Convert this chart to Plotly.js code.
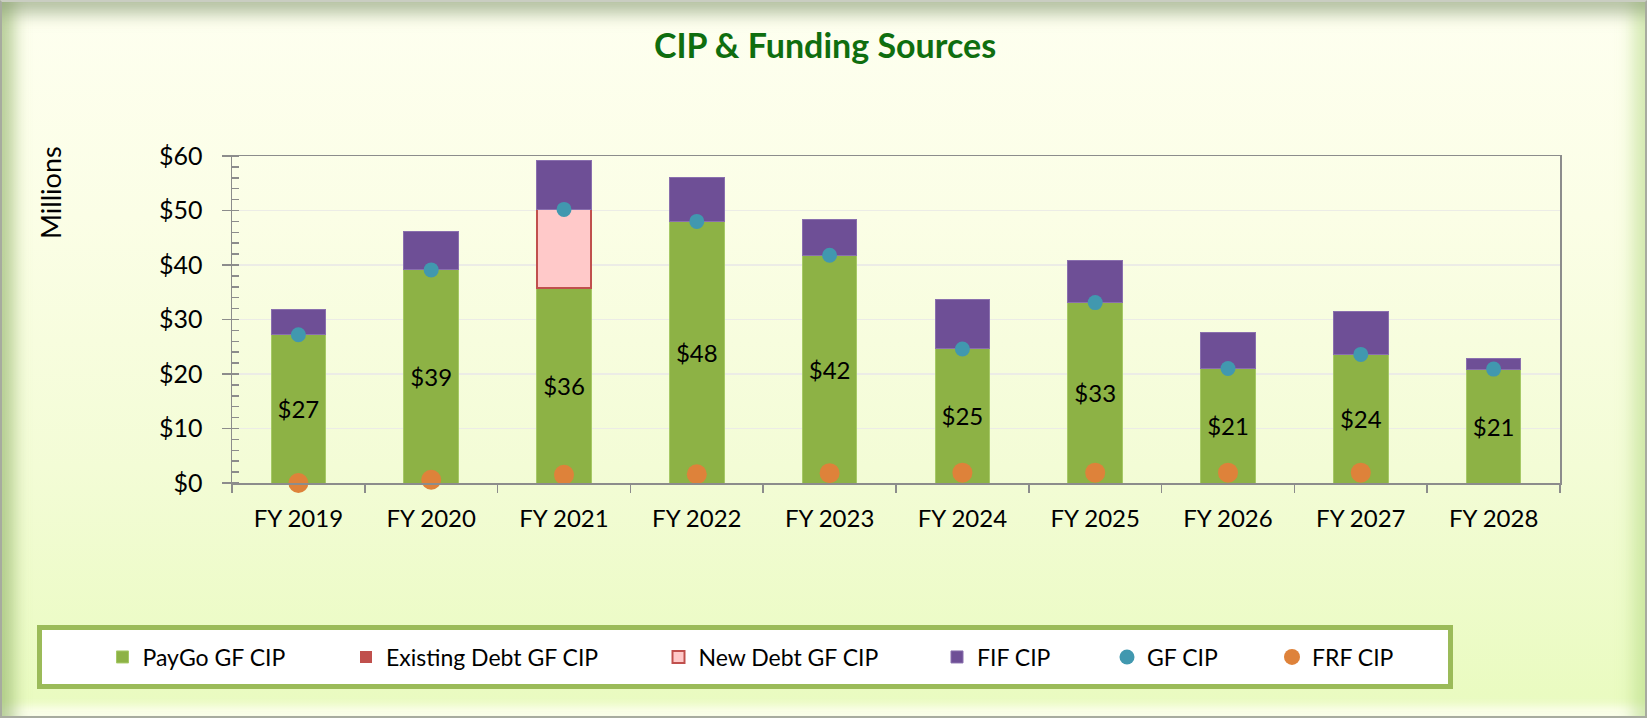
<!DOCTYPE html>
<html>
<head>
<meta charset="utf-8">
<script src="https://cdn.plot.ly/plotly-3.0.1.min.js"></script>
<style>
  html, body { margin: 0; padding: 0; width: 1647px; height: 718px; overflow: hidden; background: #ffffff; }
  #frame {
    position: absolute; left: 0; top: 0; width: 1647px; height: 718px; box-sizing: border-box;
    border: 2px solid #A7AB9F; border-top-color: #C9CDC1;
    background: linear-gradient(to bottom, #FEFFF0 0%, #FBFEE6 30%, #F3FCD6 65%, #E9FBBF 100%);
    box-shadow: inset 0 28px 16px -16px rgba(135,155,115,0.6),
                inset 26px 0 16px -14px rgba(140,175,100,0.6),
                inset -26px 0 16px -14px rgba(175,215,125,0.5),
                inset 0 -18px 10px -8px rgba(255,255,245,0.85);
  }
  #chart { position: absolute; left: 0; top: 0; width: 1647px; height: 718px; }
</style>
</head>
<body>
<div id="frame"></div>
<div id="chart"></div>
<script>
// ---- data ----
const categories = ["FY 2019", "FY 2020", "FY 2021", "FY 2022", "FY 2023", "FY 2024", "FY 2025", "FY 2026", "FY 2027", "FY 2028"];
const paygoGF    = [27.2, 39.1, 35.8, 48.0, 41.8, 24.6, 33.1, 21.0, 23.6, 20.9];
const existingDebtGF = [null, null, null, null, null, null, null, null, null, null];
const newDebtGF  = [null, null, 14.4, null, null, null, null, null, null, null];
const fifCIP     = [4.7, 7.1, 9.0, 8.1, 6.6, 9.1, 7.7, 6.6, 7.8, 1.9];
const gfCIP      = [27.2, 39.1, 50.2, 48.0, 41.8, 24.6, 33.1, 21.0, 23.6, 20.9];
const frfCIP     = [0, 0.6, 1.5, 1.6, 1.8, 1.9, 1.9, 1.9, 1.9, null];
const yTickVals  = [0, 10, 20, 30, 40, 50, 60];
const yTickText  = ["$0", "$10", "$20", "$30", "$40", "$50", "$60"];

// ---- geometry helpers (plot area in px) ----
const W = 1647, H = 718;
const PL = 232, PR = 1560, PT = 156, PB = 483;
const px2x = p => (p - PL) / (PR - PL);
const py2y = p => (PB - p) / (PB - PT);

const FONT = "Lato, 'Open Sans', sans-serif";
const AXC = "#8C8C8C";

const traces = [
  { type: "bar", name: "PayGo GF CIP", x: categories, y: paygoGF, legend: "legend",
    marker: { color: "#8DB245", line: { color: "#A6C966", width: 1 } },
    texttemplate: "$%{y:.0f}", textposition: "inside", insidetextanchor: "middle",
    textangle: 0, constraintext: "none",
    textfont: { family: FONT, size: 24, color: "#000000" } },
  { type: "bar", name: "Existing Debt GF CIP", x: categories, y: existingDebtGF, legend: "legend2",
    marker: { color: "#C0504D", line: { color: "#C0504D", width: 0 } } },
  { type: "bar", name: "New Debt GF CIP", x: categories, y: newDebtGF, legend: "legend3",
    marker: { color: "#FFC9C9", line: { color: "#C0504D", width: 2 } } },
  { type: "bar", name: "FIF CIP", x: categories, y: fifCIP, legend: "legend4",
    marker: { color: "#6E4F96", line: { color: "#8A70AE", width: 1 } } },
  { type: "scatter", mode: "markers", name: "GF CIP", x: categories, y: gfCIP, legend: "legend5",
    cliponaxis: false, marker: { color: "#4198AF", size: 15 } },
  { type: "scatter", mode: "markers", name: "FRF CIP", x: categories, y: frfCIP, legend: "legend6",
    cliponaxis: false, marker: { color: "#DE823A", size: 20 } }
];

const legendFont = { family: FONT, size: 23, color: "#000000" };
const legY = py2y(657);
function leg(symbolCenterPx) {
  return { orientation: "h", x: px2x(symbolCenterPx - 21), xanchor: "left", y: legY, yanchor: "middle",
           bgcolor: "rgba(0,0,0,0)", borderwidth: 0, font: legendFont, itemsizing: "trace" };
}

const layout = {
  width: W, height: H,
  margin: { l: PL, r: W - PR, t: PT, b: H - PB, pad: 0 },
  paper_bgcolor: "rgba(0,0,0,0)",
  plot_bgcolor: "rgba(0,0,0,0)",
  barmode: "stack",
  bargap: 0.59,
  title: { text: "CIP & Funding Sources", x: 825 / W, xanchor: "center", y: 1 - 46 / H, yanchor: "middle",
           font: { family: FONT, size: 34, color: "#0F6E0F", weight: "bold" } },
  font: { family: FONT, color: "#000000" },
  xaxis: {
    type: "category", range: [-0.5, categories.length - 0.5], autorange: false,
    tickson: "boundaries", ticks: "outside", ticklen: 8, tickwidth: 1.5, tickcolor: AXC,
    showline: true, linecolor: AXC, linewidth: 1.5, mirror: true,
    tickfont: { family: FONT, size: 24, color: "#000000" }, ticklabelstandoff: 14,
    showgrid: false, zeroline: false, fixedrange: true
  },
  yaxis: {
    range: [0, 60], tickmode: "array", tickvals: yTickVals, ticktext: yTickText,
    ticks: "outside", ticklen: 9, tickwidth: 1.5, tickcolor: AXC,
    showline: true, linecolor: AXC, linewidth: 1.5, mirror: true,
    gridcolor: "#ECECE6", gridwidth: 1.5, zeroline: false,
    tickfont: { family: FONT, size: 25, color: "#000000" }, ticklabelstandoff: 14,
    minor: { dtick: 2, ticks: "inside", ticklen: 7, tickwidth: 1.5, tickcolor: AXC, showgrid: false },
    fixedrange: true
  },
  showlegend: true,
  legend:  leg(123.5),
  legend2: leg(367),
  legend3: leg(679.5),
  legend4: leg(958),
  legend5: leg(1128),
  legend6: leg(1293),
  shapes: [
    { type: "rect", xref: "paper", yref: "paper", layer: "below",
      x0: px2x(39.5), x1: px2x(1450.5), y0: py2y(627.5), y1: py2y(686.5),
      fillcolor: "#FFFFFF", line: { color: "#9BBB59", width: 5 } }
  ],
  annotations: [
    { text: "Millions", xref: "paper", yref: "paper", x: px2x(50), y: py2y(192),
      xanchor: "center", yanchor: "middle", textangle: -90, showarrow: false,
      font: { family: FONT, size: 27, color: "#000000" } }
  ]
};

Plotly.newPlot("chart", traces, layout, { displayModeBar: false, staticPlot: true });
</script>
</body>
</html>
